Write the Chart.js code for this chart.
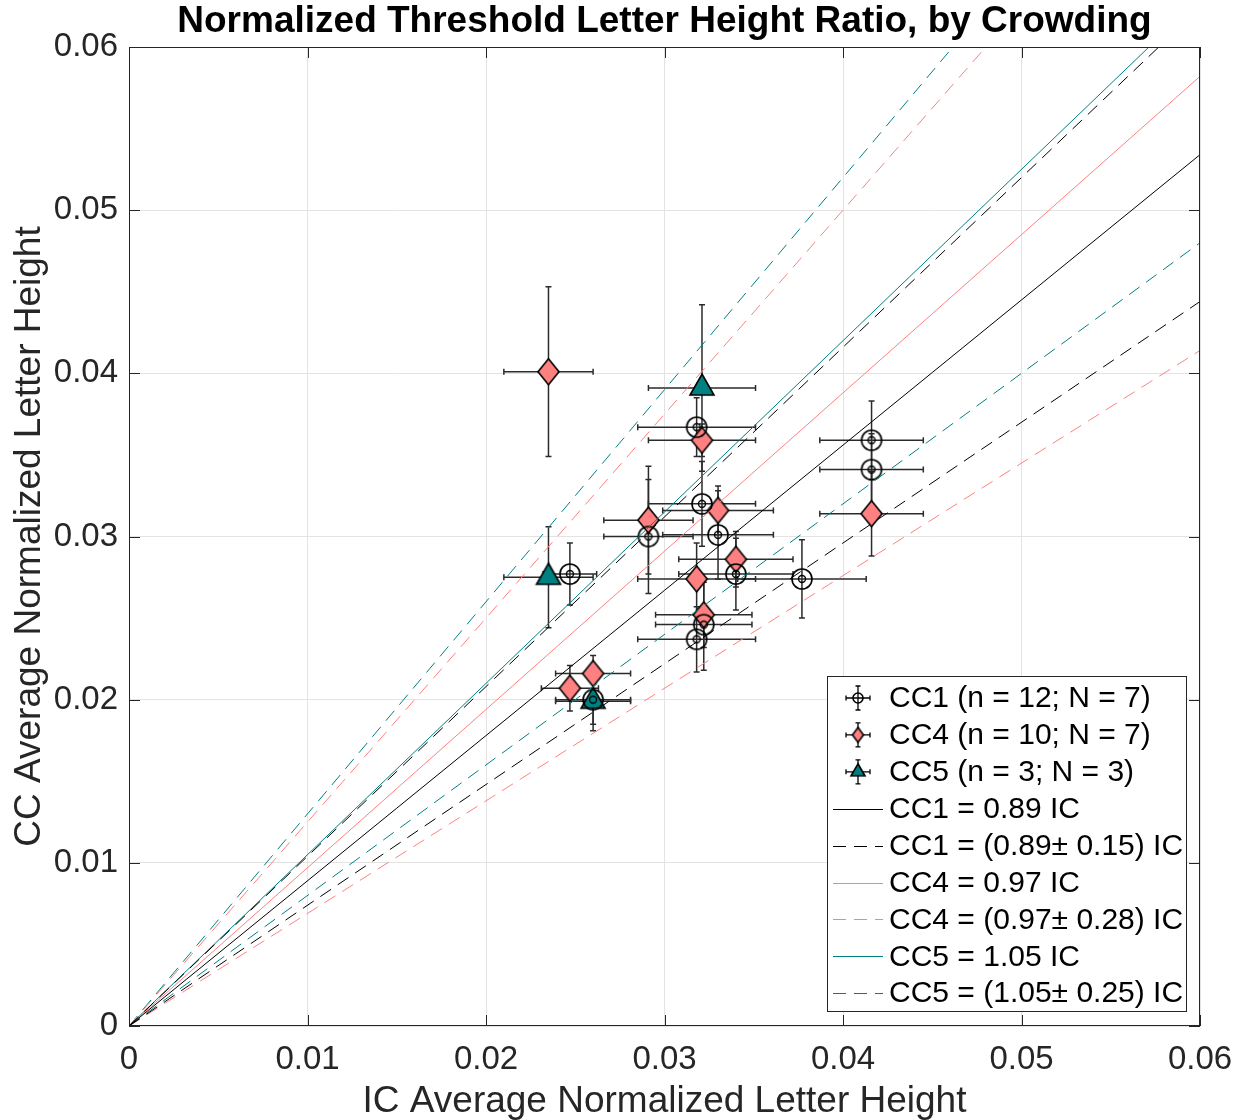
<!DOCTYPE html>
<html>
<head>
<meta charset="utf-8">
<script src="https://cdn.jsdelivr.net/npm/chart.js@4.4.1/dist/chart.umd.min.js"></script>
<style>
  html, body { margin: 0; padding: 0; background: #fff; }
  #wrap { width: 1248px; height: 1120px; }
</style>
</head>
<body>
<div id="wrap"><canvas id="chart" width="1248" height="1120"></canvas></div>
<script>
// --- DATA ---
const tickValues = [0, 0.01, 0.02, 0.03, 0.04, 0.05, 0.06];

const cc1X  = [0.0247, 0.0291, 0.0318, 0.0321, 0.0330, 0.0340, 0.0318, 0.0322, 0.0377, 0.0416, 0.0416, 0.0260];
const cc1Y  = [0.0277, 0.0300, 0.0367, 0.0320, 0.0301, 0.0277, 0.0237, 0.0246, 0.0274, 0.0359, 0.0341, 0.0200];
const cc1Ex = [0.0015, 0.0025, 0.0033, 0.0030, 0.0031, 0.0032, 0.0033, 0.0027, 0.0036, 0.0029, 0.0029, 0.0021];
const cc1Ey = [0.0019, 0.0035, 0.0018, 0.0026, 0.0027, 0.0022, 0.0020, 0.0028, 0.0024, 0.0024, 0.0022, 0.0015];

const cc4X  = [0.0235, 0.0321, 0.0291, 0.0330, 0.0340, 0.0318, 0.0322, 0.0416, 0.0247, 0.0260];
const cc4Y  = [0.0401, 0.0359, 0.0310, 0.0316, 0.0286, 0.0274, 0.0252, 0.0314, 0.0207, 0.0216];
const cc4Ex = [0.0025, 0.0030, 0.0025, 0.0031, 0.0032, 0.0033, 0.0027, 0.0029, 0.0016, 0.0021];
const cc4Ey = [0.0052, 0.0010, 0.0033, 0.0015, 0.0017, 0.0022, 0.0020, 0.0026, 0.0014, 0.0011];

const cc5X  = [0.0321, 0.0235, 0.0260];
const cc5Y  = [0.0391, 0.0275, 0.0199];
const cc5Ex = [0.0030, 0.0025, 0.0021];
const cc5Ey = [0.0051, 0.0031, 0.0018];

// fitted slopes and spreads
const fitNames  = ['CC1', 'CC4', 'CC5'];
const fitSlopes = [0.89, 0.97, 1.05];
const fitSpread = [0.15, 0.28, 0.25];

const seriesLabels = ['CC1 (n = 12; N = 7)', 'CC4 (n = 10; N = 7)', 'CC5 (n = 3; N = 3)'];

const FONT = "'Liberation Sans', Arial, Helvetica, sans-serif";
const RED = '#ff8080';
const TEAL = '#008080';
const fitColors = ['#000000', RED, TEAL];

// --- MARKER IMAGES ---
function circleMarker(r, inner) {
    const s = Math.ceil(r * 2 + 4);
    const c = document.createElement('canvas');
    c.width = s; c.height = s;
    const g = c.getContext('2d');
    g.strokeStyle = '#000';
    g.lineWidth = 1.6;
    g.beginPath(); g.arc(s / 2, s / 2, r, 0, Math.PI * 2); g.stroke();
    if (inner) {
        g.lineWidth = 1.4;
        g.beginPath(); g.arc(s / 2, s / 2, inner, 0, Math.PI * 2); g.stroke();
    }
    return c;
}

function diamondMarker(hw, hh) {
    const w = Math.ceil(hw * 2 + 4), h = Math.ceil(hh * 2 + 4);
    const c = document.createElement('canvas');
    c.width = w; c.height = h;
    const g = c.getContext('2d');
    g.fillStyle = RED;
    g.strokeStyle = '#000';
    g.lineWidth = 1.6;
    g.beginPath();
    g.moveTo(w / 2, h / 2 - hh);
    g.lineTo(w / 2 + hw, h / 2);
    g.lineTo(w / 2, h / 2 + hh);
    g.lineTo(w / 2 - hw, h / 2);
    g.closePath();
    g.fill(); g.stroke();
    return c;
}

function triangleMarker(hw, up, down) {
    const w = Math.ceil(hw * 2 + 4), half = Math.ceil(Math.max(up, down) + 2);
    const c = document.createElement('canvas');
    c.width = w; c.height = half * 2;
    const g = c.getContext('2d');
    g.fillStyle = TEAL;
    g.strokeStyle = '#000';
    g.lineWidth = 1.6;
    g.beginPath();
    g.moveTo(w / 2, half - up);
    g.lineTo(w / 2 + hw, half + down);
    g.lineTo(w / 2 - hw, half + down);
    g.closePath();
    g.fill(); g.stroke();
    return c;
}

const markerImgs = [circleMarker(10, 3.5), diamondMarker(10.5, 13), triangleMarker(12, 14, 7)];
const legendImgs = [circleMarker(5), diamondMarker(5.5, 7.5), triangleMarker(7, 8, 4)];

// --- DATASETS ---
const toPts = (xs, ys) => xs.map((x, i) => ({ x: x, y: ys[i] }));

const datasets = [];
// fit lines first so they draw on top of the markers
fitSlopes.forEach((m, k) => {
    [m, m + fitSpread[k], m - fitSpread[k]].forEach((s, j) => {
        datasets.push({
            type: 'line',
            data: [{ x: 0, y: 0 }, { x: 0.06, y: 0.06 * s }],
            borderColor: fitColors[k],
            borderWidth: 1,
            borderDash: j === 0 ? [] : [13, 8],
            pointRadius: 0,
            fill: false
        });
    });
});

const scatterSets = [
    [cc1X, cc1Y, cc1Ex, cc1Ey],
    [cc4X, cc4Y, cc4Ex, cc4Ey],
    [cc5X, cc5Y, cc5Ex, cc5Ey]
];
scatterSets.forEach((s, k) => {
    datasets.push({
        type: 'scatter',
        label: seriesLabels[k],
        data: toPts(s[0], s[1]),
        errX: s[2],
        errY: s[3],
        pointStyle: markerImgs[k],
        pointRadius: 10,
        pointHoverRadius: 10
    });
});

// --- PLUGINS ---
function errCross(ctx, cx, cy, x0, x1, y0, y1, cap) {
    ctx.beginPath();
    ctx.moveTo(x0, cy); ctx.lineTo(x1, cy);
    ctx.moveTo(cx, y0); ctx.lineTo(cx, y1);
    ctx.moveTo(x0, cy - cap); ctx.lineTo(x0, cy + cap);
    ctx.moveTo(x1, cy - cap); ctx.lineTo(x1, cy + cap);
    ctx.moveTo(cx - cap, y0); ctx.lineTo(cx + cap, y0);
    ctx.moveTo(cx - cap, y1); ctx.lineTo(cx + cap, y1);
    ctx.stroke();
}

const errorBarPlugin = {
    id: 'errorBars',
    beforeDatasetsDraw(chart) {
        const ctx = chart.ctx;
        const xs = chart.scales.x, ys = chart.scales.y;
        ctx.save();
        ctx.strokeStyle = '#2b2b2b';
        ctx.lineWidth = 1.5;
        chart.data.datasets.forEach(ds => {
            if (!ds.errX) return;
            ds.data.forEach((p, i) => {
                errCross(ctx,
                    xs.getPixelForValue(p.x), ys.getPixelForValue(p.y),
                    xs.getPixelForValue(p.x - ds.errX[i]), xs.getPixelForValue(p.x + ds.errX[i]),
                    ys.getPixelForValue(p.y - ds.errY[i]), ys.getPixelForValue(p.y + ds.errY[i]), 3);
            });
        });
        ctx.restore();
    }
};

const framePlugin = {
    id: 'frame',
    afterDraw(chart) {
        const ctx = chart.ctx;
        const a = chart.chartArea;
        const xs = chart.scales.x, ys = chart.scales.y;
        ctx.save();

        // axes box + inward ticks on all sides
        ctx.strokeStyle = '#262626';
        ctx.lineWidth = 1;
        ctx.strokeRect(a.left + 0.5, a.top + 0.5, a.right - a.left - 1, a.bottom - a.top - 1);
        ctx.beginPath();
        tickValues.forEach(v => {
            const px = Math.round(xs.getPixelForValue(v)) + 0.5;
            const py = Math.round(ys.getPixelForValue(v)) + 0.5;
            ctx.moveTo(px, a.bottom); ctx.lineTo(px, a.bottom - 11);
            ctx.moveTo(px, a.top); ctx.lineTo(px, a.top + 11);
            ctx.moveTo(a.left, py); ctx.lineTo(a.left + 11, py);
            ctx.moveTo(a.right, py); ctx.lineTo(a.right - 11, py);
        });
        ctx.stroke();

        // title, centred on the axes
        ctx.fillStyle = '#000';
        ctx.font = 'bold 37px ' + FONT;
        ctx.textAlign = 'center';
        ctx.textBaseline = 'middle';
        ctx.fillText('Normalized Threshold Letter Height Ratio, by Crowding', (a.left + a.right) / 2, 22);

        // legend
        const box = { x: 827, y: 676, w: 359, h: 335 };
        ctx.fillStyle = '#fff';
        ctx.fillRect(box.x, box.y, box.w, box.h);
        ctx.strokeStyle = '#262626';
        ctx.strokeRect(box.x + 0.5, box.y + 0.5, box.w, box.h);

        const rowY = i => 698 + i * 36.9;
        const entries = [];
        seriesLabels.forEach((t, k) => entries.push({ kind: 'marker', k: k, text: t }));
        fitNames.forEach((n, k) => {
            const m = fitSlopes[k].toFixed(2);
            entries.push({ kind: 'line', k: k, dash: [], text: n + ' = ' + m + ' IC' });
            entries.push({ kind: 'line', k: k, dash: [13, 8], text: n + ' = (' + m + '\u00b1 ' + fitSpread[k].toFixed(2) + ') IC' });
        });

        ctx.font = '30px ' + FONT;
        ctx.textAlign = 'left';
        entries.forEach((e, i) => {
            const y = rowY(i);
            if (e.kind === 'marker') {
                ctx.strokeStyle = '#000';
                ctx.lineWidth = 1.3;
                errCross(ctx, 858, y, 846, 870, y - 12, y + 12, 2.5);
                const img = legendImgs[e.k];
                ctx.drawImage(img, 858 - img.width / 2, y - img.height / 2);
            } else {
                ctx.strokeStyle = fitColors[e.k];
                ctx.lineWidth = 1;
                ctx.setLineDash(e.dash);
                ctx.beginPath();
                ctx.moveTo(833, Math.round(y) + 0.5);
                ctx.lineTo(883, Math.round(y) + 0.5);
                ctx.stroke();
                ctx.setLineDash([]);
            }
            ctx.fillStyle = '#000';
            ctx.fillText(e.text, 889, y + 1);
        });

        ctx.restore();
    }
};

// --- CHART ---
const axisCommon = {
    type: 'linear',
    min: 0,
    max: 0.06,
    afterBuildTicks: scale => { scale.ticks = tickValues.map(v => ({ value: v })); },
    grid: { color: '#e3e3e3', lineWidth: 1, drawTicks: false },
    border: { display: false },
    ticks: {
        color: '#262626',
        font: { family: FONT, size: 33 },
        callback: v => (v === 0 ? '0' : v.toFixed(2))
    }
};

new Chart(document.getElementById('chart'), {
    type: 'scatter',
    data: { datasets: datasets },
    options: {
        responsive: false,
        animation: false,
        layout: { padding: { top: 47, right: 48, left: 0, bottom: 0 } },
        plugins: {
            legend: { display: false },
            tooltip: { enabled: false },
            title: { display: false }
        },
        scales: {
            x: Object.assign({}, axisCommon, {
                position: 'bottom',
                afterFit: scale => { scale.height = 94; },
                ticks: Object.assign({}, axisCommon.ticks, { padding: 14, maxRotation: 0 }),
                title: {
                    display: true,
                    text: 'IC Average Normalized Letter Height',
                    color: '#262626',
                    font: { family: FONT, size: 37, lineHeight: 1.0 },
                    padding: { top: 0, bottom: 0 }
                }
            }),
            y: Object.assign({}, axisCommon, {
                position: 'left',
                afterFit: scale => { scale.width = 129; },
                ticks: Object.assign({}, axisCommon.ticks, { padding: 11 }),
                title: {
                    display: true,
                    text: 'CC Average Normalized Letter Height',
                    color: '#262626',
                    font: { family: FONT, size: 37 },
                    padding: { top: 8, bottom: 8 }
                }
            })
        }
    },
    plugins: [errorBarPlugin, framePlugin]
});
</script>
</body>
</html>
